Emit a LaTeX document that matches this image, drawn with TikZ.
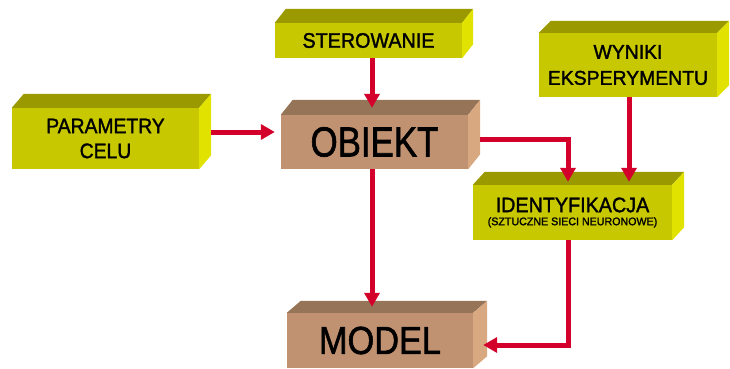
\documentclass[tikz,border=0pt]{standalone}
\usepackage{fontspec}
\usepackage{graphicx}
\setmainfont[FakeBold=1.6]{Liberation Sans}
\usetikzlibrary{arrows.meta,calc}
\definecolor{yfront}{HTML}{C8C800}
\definecolor{ytop}{HTML}{9A9A00}
\definecolor{yside}{HTML}{E2E200}
\definecolor{bfront}{HTML}{C09272}
\definecolor{btop}{HTML}{967457}
\definecolor{bside}{HTML}{D8A880}
\definecolor{arrred}{HTML}{D2002A}
\newcommand{\boxsides}[5]{%
  \fill[#4] (#1.north west) -- ($(#1.north west)+(#2,#3)$) -- ($(#1.north east)+(#2,#3)$) -- (#1.north east) -- cycle;
  \fill[#5] (#1.north east) -- ($(#1.north east)+(#2,#3)$) -- ($(#1.south east)+(#2,#3)$) -- (#1.south east) -- cycle;}
\newcommand{\sx}[2]{\scalebox{#1}[1]{#2}}
\tikzset{
  front/.style={rectangle, inner sep=0pt, align=center, text=black},
  yfr/.style={front, fill=yfront},
  bfr/.style={front, fill=bfront},
  arr/.style={draw=arrred, line width=5pt, -{Triangle[width=15pt,length=14pt]}},
  small/.style={font=\fontsize{21}{25}\selectfont},
}
\begin{document}
\begin{tikzpicture}[x=1pt,y=-1pt]
\useasboundingbox (0,0) rectangle (730,369);
% front faces
\node[yfr, small, minimum width=187pt, minimum height=61pt] (par) at (105.5,138.5) {\sx{0.92}{PARAMETRY}\\\sx{0.92}{CELU}};
\node[yfr, small, minimum width=187pt, minimum height=35pt] (ster) at (368.5,40.5) {\sx{0.94}{STEROWANIE}};
\node[bfr, font=\fontsize{42}{46}\selectfont, minimum width=187pt, minimum height=54pt] (obj) at (374.5,142) {\sx{0.83}{OBIEKT}};
\node[yfr, font=\fontsize{20}{26}\selectfont, minimum width=178pt, minimum height=64pt] (wyn) at (628,65) {\sx{0.97}{WYNIKI}\\\sx{0.97}{EKSPERYMENTU}};
\node[yfr, minimum width=199pt, minimum height=55pt] (ide) at (572.5,212.5) {{\fontsize{21}{22}\selectfont\sx{0.94}{IDENTYFIKACJA}}\\[1pt]{\fontsize{11}{12}\selectfont\sx{0.97}{(SZTUCZNE SIECI NEURONOWE)}}};
\node[bfr, font=\fontsize{39}{43}\selectfont, minimum width=186pt, minimum height=55pt] (mod) at (380,340.5) {\sx{0.88}{MODEL}};
% depth faces
\boxsides{par}{12}{-14}{ytop}{yside}
\boxsides{ster}{11}{-14}{ytop}{yside}
\boxsides{obj}{12}{-15}{btop}{bside}
\boxsides{wyn}{12}{-12}{ytop}{yside}
\boxsides{ide}{12}{-13}{ytop}{yside}
\boxsides{mod}{14}{-12}{btop}{bside}
% connectors
\coordinate (pa) at ($(par.east)+(12,-6.5)$);
\draw[arr] (pa) -- ($(obj.west |- pa)+(-6,0)$);
\coordinate (sa) at ($(ster.south)+(3.5,0)$);
\draw[arr] (sa) -- ($(sa |- obj.north)+(0,-7)$);
\coordinate (oa) at ($(obj.east)+(12,-3)$);
\draw[arr] (oa) -| ($(ide.north)+(-4.5,-3)$);
\coordinate (wa) at ($(wyn.south)+(1,0)$);
\draw[arr] (wa) -- ($(wa |- ide.north)+(0,-3)$);
\coordinate (ob) at ($(obj.south)+(-2.5,0)$);
\draw[arr] (ob) -- ($(ob |- mod.north)+(0,-6)$);
\coordinate (ia) at ($(ide.south)+(-4.5,0)$);
\draw[arr] (ia) |- ($(mod.east)+(10,4.5)$);
\end{tikzpicture}
\end{document}
